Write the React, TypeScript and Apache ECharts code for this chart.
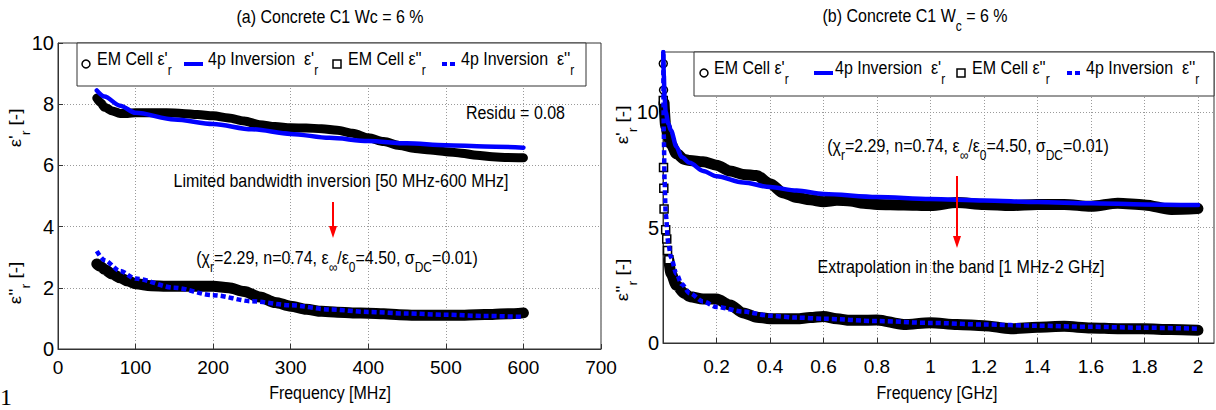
import React, { useEffect, useRef } from "react";
import * as echarts from "echarts";

// ---------- data ----------
// (a) limited band inversion, frequency in MHz
const leftFreqMHz = [50, 55, 60, 70, 80, 90, 100, 120, 140, 160, 180, 200, 220, 240, 260, 280, 300, 320, 340, 360, 380, 400, 420, 440, 460, 480, 500, 520, 540, 560, 580, 600];
const leftEmReal = [8.2, 8.05, 7.9, 7.78, 7.7, 7.7, 7.72, 7.72, 7.72, 7.7, 7.66, 7.62, 7.55, 7.45, 7.33, 7.27, 7.23, 7.22, 7.2, 7.15, 7.05, 6.9, 6.78, 6.65, 6.55, 6.5, 6.45, 6.4, 6.33, 6.28, 6.26, 6.25];
const leftEmImag = [2.78, 2.7, 2.6, 2.45, 2.33, 2.22, 2.13, 2.07, 2.05, 2.05, 2.05, 2.05, 2.0, 1.88, 1.7, 1.52, 1.4, 1.3, 1.23, 1.2, 1.18, 1.17, 1.15, 1.12, 1.1, 1.1, 1.1, 1.1, 1.12, 1.13, 1.15, 1.18];
const leftFitFreqMHz = [50, 60, 80, 100, 150, 200, 250, 300, 350, 400, 450, 500, 550, 600];
const leftFitReal = [8.45, 8.25, 7.95, 7.72, 7.5, 7.35, 7.18, 7.03, 6.9, 6.8, 6.72, 6.66, 6.62, 6.58];
const leftFitImag = [3.2, 2.9, 2.55, 2.3, 2.0, 1.76, 1.56, 1.43, 1.29, 1.21, 1.16, 1.12, 1.08, 1.05];

// (b) extrapolation, frequency in GHz
const rightEmRealLowFreqGHz = [0.001, 0.002];
const rightEmRealLow = [12.1, 10.95];
const rightEmImagLowFreqGHz = [0.001, 0.002, 0.003, 0.004, 0.01, 0.014, 0.017, 0.022];
const rightEmImagLow = [10.5, 7.6, 6.7, 5.8, 4.9, 4.5, 4.0, 3.6];
const rightEmRealFreqGHz = [0.004, 0.01, 0.02, 0.03, 0.05, 0.08, 0.1, 0.15, 0.2, 0.25, 0.3, 0.35, 0.4, 0.45, 0.5, 0.55, 0.6, 0.65, 0.7, 0.75, 0.8, 0.9, 1.0, 1.1, 1.2, 1.3, 1.4, 1.5, 1.6, 1.7, 1.8, 1.9, 2.0];
const rightEmReal = [10.4, 9.4, 8.9, 8.6, 8.2, 7.95, 7.9, 7.85, 7.7, 7.45, 7.3, 7.25, 6.9, 6.5, 6.3, 6.2, 6.12, 6.18, 6.15, 6.05, 6.0, 5.98, 5.95, 6.08, 6.0, 5.95, 6.0, 6.0, 5.92, 6.05, 5.98, 5.78, 5.82];
const rightEmImagFreqGHz = [0.022, 0.03, 0.05, 0.08, 0.1, 0.15, 0.2, 0.25, 0.3, 0.35, 0.4, 0.5, 0.55, 0.6, 0.65, 0.7, 0.8, 0.9, 1.0, 1.1, 1.2, 1.3, 1.4, 1.5, 1.6, 1.7, 1.8, 1.9, 2.0];
const rightEmImag = [3.6, 3.0, 2.5, 2.15, 2.0, 1.9, 1.9, 1.65, 1.3, 1.12, 1.05, 1.05, 1.1, 1.15, 1.05, 0.98, 1.0, 0.8, 0.88, 0.8, 0.75, 0.62, 0.68, 0.72, 0.65, 0.62, 0.62, 0.58, 0.55];
const rightFitFreqGHz = [0.001, 0.003, 0.006, 0.01, 0.02, 0.03, 0.05, 0.07, 0.1, 0.15, 0.2, 0.3, 0.4, 0.5, 0.6, 0.8, 1.0, 1.2, 1.4, 1.6, 1.8, 2.0];
const rightFitReal = [12.6, 11.6, 10.6, 10.0, 9.5, 9.2, 8.5, 8.05, 7.8, 7.45, 7.22, 6.95, 6.75, 6.6, 6.45, 6.32, 6.23, 6.17, 6.1, 6.05, 6.0, 5.97];
const rightFitImag = [12.5, 9.0, 7.0, 5.6, 4.3, 3.7, 3.0, 2.55, 2.15, 1.8, 1.56, 1.36, 1.18, 1.1, 1.05, 0.95, 0.87, 0.8, 0.75, 0.7, 0.66, 0.62];

const leftXTicks = { min: 0, max: 700, step: 100 };
const leftYTicks = { min: 0, max: 10, step: 2 };
const rightXTicks = { min: 0, max: 2.06, step: 0.2 };
const rightYTicks = { min: 0, max: 12.6, step: 5 };

const titleA = "(a) Concrete C1 Wc = 6 %";
const xNameA = "Frequency [MHz]";
const xNameB = "Frequency [GHz]";

// ---------- styling ----------
const FONT = '"Liberation Sans", Arial, Helvetica, sans-serif';
const BLUE = "#0000ff";
const SY = 1.18; // vertical stretch of the reference's lettering

const zip = (xs: number[], ys: number[]) => xs.map((x, i) => [x, ys[i]]);

function richStyles(main: number, sub: number, drop: number) {
  return {
    m: { fontSize: main, fontFamily: FONT, fill: "#000", color: "#000", lineHeight: main + 2, verticalAlign: "top" },
    s: { fontSize: sub, fontFamily: FONT, fill: "#000", color: "#000", lineHeight: sub, padding: [drop, 0, 0, 0], verticalAlign: "top" },
  };
}

// text with subscripts; y = centre of main text line
function rich(x: number, y: number, text: string, align: string, opts: any = {}) {
  const main = opts.main ?? 16;
  const sub = opts.sub ?? 12;
  const drop = opts.drop ?? 12;
  const rot = opts.rotation ?? 0;
  const off = (main + 2) / 2;
  return {
    type: "text",
    x: rot ? x - off : x,
    y: rot ? y : y - off * SY,
    rotation: rot,
    scaleX: rot ? SY : 1,
    scaleY: rot ? 1 : SY,
    silent: true,
    z: 100,
    style: {
      text,
      rich: richStyles(main, sub, drop),
      fontFamily: FONT,
      fontSize: main,
      fill: "#000",
      align,
      textAlign: align,
      verticalAlign: "top",
      textVerticalAlign: "top",
    },
  };
}

function plain(x: number, y: number, text: string, size: number, align = "center", family = FONT, sy = SY) {
  return {
    type: "text",
    x,
    y,
    scaleY: sy,
    silent: true,
    z: 100,
    style: {
      text,
      fontFamily: family,
      fontSize: size,
      fill: "#000",
      align,
      textAlign: align,
      verticalAlign: "middle",
      textVerticalAlign: "middle",
    },
  };
}

function arrow(x: number, y1: number, y2: number) {
  return [
    { type: "line", silent: true, z: 100, shape: { x1: x, y1, x2: x, y2: y2 - 10 }, style: { stroke: "#ff0000", lineWidth: 2 } },
    { type: "polygon", silent: true, z: 100, shape: { points: [[x - 4, y2 - 12], [x + 4, y2 - 12], [x, y2]] }, style: { fill: "#ff0000" } },
  ];
}

function legend(box: number[], my: number, xs: number[]) {
  const [bx, by, bw, bh] = box;
  const ly = my + 4;
  const els: any[] = [
    { type: "rect", silent: true, z: 90, shape: { x: bx, y: by, width: bw, height: bh }, style: { fill: "#fff", stroke: "#333", lineWidth: 1 } },
    { type: "circle", silent: true, z: 100, shape: { cx: xs[0], cy: ly, r: 4 }, style: { fill: "#fff", stroke: "#000", lineWidth: 1.5 } },
    rich(xs[1], my, "{m|EM Cell ε'}{s|r}", "left"),
    { type: "line", silent: true, z: 100, shape: { x1: xs[2], y1: ly, x2: xs[2] + 19, y2: ly }, style: { stroke: BLUE, lineWidth: 4 } },
    rich(xs[3], my, "{m|4p Inversion  ε'}{s|r}", "left"),
    { type: "rect", silent: true, z: 100, shape: { x: xs[4] - 4, y: ly - 4, width: 8, height: 8 }, style: { fill: "#fff", stroke: "#000", lineWidth: 1.5 } },
    rich(xs[5], my, "{m|EM Cell ε''}{s|r}", "left"),
    { type: "line", silent: true, z: 100, shape: { x1: xs[6], y1: ly, x2: xs[6] + 15, y2: ly }, style: { stroke: BLUE, lineWidth: 4, lineDash: [5, 3] } },
    rich(xs[7], my, "{m|4p Inversion  ε''}{s|r}", "left"),
  ];
  return els;
}

function isTick(v: number, step: number) {
  const k = v / step;
  return Math.abs(k - Math.round(k)) < 1e-6;
}

function axisCommon() {
  return {
    axisLine: { show: true, lineStyle: { color: "#333", width: 1 } },
    axisTick: { show: true, inside: true, length: 5, lineStyle: { color: "#333" } },
    splitLine: { show: true, lineStyle: { color: "#9a9a9a", type: [1, 2], width: 1 } },
  };
}

function buildOption() {
  const lineSeries = (name: string, xi: number, data: number[][], color: string, width: number, dashed = false, z = 3) => ({
    type: "line",
    name,
    xAxisIndex: xi,
    yAxisIndex: xi,
    data,
    symbol: "none",
    showSymbol: false,
    smooth: 0.3,
    smoothMonotone: "x",
    silent: true,
    z,
    lineStyle: { color, width, type: dashed ? [5, 3] : "solid", cap: dashed ? "butt" : "round", join: "round" },
  });
  const markerSeries = (name: string, xi: number, data: number[][], symbol: string) => ({
    type: "scatter",
    name,
    xAxisIndex: xi,
    yAxisIndex: xi,
    data,
    symbol,
    symbolSize: 8,
    silent: true,
    z: 2,
    itemStyle: { color: "#fff", borderColor: "#000", borderWidth: 1.5, opacity: 1 },
  });

  return {
    animation: false,
    backgroundColor: "#fff",
    textStyle: { fontFamily: FONT },
    grid: [
      { left: 58, top: 43, width: 543, height: 306, show: true, borderColor: "#333", borderWidth: 1, backgroundColor: "transparent" },
      { left: 663, top: 52, width: 551, height: 291, show: true, borderColor: "#333", borderWidth: 1, backgroundColor: "transparent" },
    ],
    xAxis: [
      {
        gridIndex: 0, type: "value", min: leftXTicks.min, max: leftXTicks.max, interval: leftXTicks.step,
        ...axisCommon(),
        axisLabel: { fontSize: 19, color: "#000", fontFamily: FONT, margin: 9 },
      },
      {
        gridIndex: 1, type: "value", min: rightXTicks.min, max: rightXTicks.max, interval: rightXTicks.step,
        ...axisCommon(),
        axisLabel: {
          fontSize: 19, color: "#000", fontFamily: FONT, margin: 14, showMaxLabel: false,
          formatter: (v: number) => (v === 0 || !isTick(v, rightXTicks.step) ? "" : String(+v.toFixed(1))),
        },
      },
    ],
    yAxis: [
      {
        gridIndex: 0, type: "value", min: leftYTicks.min, max: leftYTicks.max, interval: leftYTicks.step,
        ...axisCommon(),
        axisLabel: { fontSize: 20, color: "#000", fontFamily: FONT, margin: 4 },
      },
      {
        gridIndex: 1, type: "value", min: rightYTicks.min, max: rightYTicks.max, interval: rightYTicks.step,
        ...axisCommon(),
        axisLabel: {
          fontSize: 20, color: "#000", fontFamily: FONT, margin: 4, showMaxLabel: false,
          formatter: (v: number) => (isTick(v, rightYTicks.step) ? String(v) : ""),
        },
      },
    ],
    series: [
      lineSeries("EM Cell ε'r (a)", 0, zip(leftFreqMHz, leftEmReal), "#000", 9, false, 2),
      lineSeries("EM Cell ε''r (a)", 0, zip(leftFreqMHz, leftEmImag), "#000", 11, false, 2),
      lineSeries("4p Inversion ε'r (a)", 0, zip(leftFitFreqMHz, leftFitReal), BLUE, 4.5),
      lineSeries("4p Inversion ε''r (a)", 0, zip(leftFitFreqMHz, leftFitImag), BLUE, 4.5, true),
      markerSeries("EM Cell ε'r low (b)", 1, zip(rightEmRealLowFreqGHz, rightEmRealLow), "circle"),
      markerSeries("EM Cell ε''r low (b)", 1, zip(rightEmImagLowFreqGHz, rightEmImagLow), "rect"),
      lineSeries("EM Cell ε'r (b)", 1, zip(rightEmRealFreqGHz, rightEmReal), "#000", 11, false, 2),
      lineSeries("EM Cell ε''r (b)", 1, zip(rightEmImagFreqGHz, rightEmImag), "#000", 11, false, 2),
      lineSeries("4p Inversion ε'r (b)", 1, zip(rightFitFreqGHz, rightFitReal), BLUE, 4.5),
      lineSeries("4p Inversion ε''r (b)", 1, zip(rightFitFreqGHz, rightFitImag), BLUE, 4.5, true),
    ],
    graphic: [
      plain(330, 17, titleA, 16),
      rich(915, 17, "{m|(b) Concrete C1 W}{s|c}{m| = 6 %}", "center", { drop: 11 }),
      ...legend([77, 43, 509, 43], 60, [86, 97, 184, 208, 337, 348, 442, 461]),
      ...legend([694, 52, 520, 44], 69, [704, 714, 814, 835, 961, 972, 1067, 1086]),
      plain(565, 113, "Residu = 0.08", 16, "right"),
      plain(341, 181, "Limited bandwidth inversion [50 MHz-600 MHz]", 16),
      ...arrow(333, 202, 238),
      rich(337, 259, "{m|(χ}{s|r}{m|=2.29, n=0.74, ε}{s|∞}{m|/ε}{s|0}{m|=4.50, σ}{s|DC}{m|=0.01)}", "center", { drop: 10 }),
      rich(968, 147, "{m|(χ}{s|r}{m|=2.29, n=0.74, ε}{s|∞}{m|/ε}{s|0}{m|=4.50, σ}{s|DC}{m|=0.01)}", "center", { drop: 10 }),
      ...arrow(957, 176, 248),
      plain(961, 267, "Extrapolation in the band [1 MHz-2 GHz]", 16),
      plain(330, 393, xNameA, 16),
      plain(937, 393, xNameB, 16),
      rich(17, 128, "{m|ε'}{s|r}{m| [-]}", "center", { rotation: Math.PI / 2 }),
      rich(17, 283, "{m|ε''}{s|r}{m| [-]}", "center", { rotation: Math.PI / 2 }),
      rich(624, 125, "{m|ε'}{s|r}{m| [-]}", "center", { rotation: Math.PI / 2 }),
      rich(624, 280, "{m|ε''}{s|r}{m| [-]}", "center", { rotation: Math.PI / 2 }),
      plain(0, 397, "1", 24, "left", '"Liberation Serif", "Times New Roman", serif', 1),
    ],
  };
}

export default function App() {
  const ref = useRef<HTMLDivElement>(null);
  useEffect(() => {
    if (!ref.current) return;
    const chart = echarts.init(ref.current, undefined, { renderer: "svg" });
    chart.setOption(buildOption() as any);
    return () => chart.dispose();
  }, []);
  return (
    <div
      ref={ref}
      style={{ position: "fixed", left: 0, top: 0, width: 1216, height: 410, background: "#fff" }}
    />
  );
}
